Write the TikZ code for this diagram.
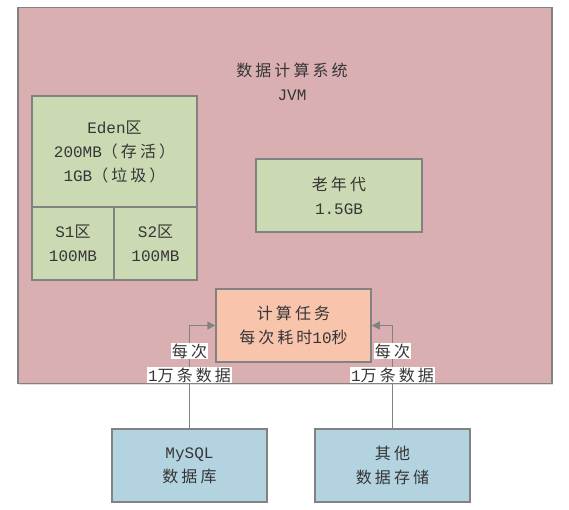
\documentclass[tikz,border=0pt]{standalone}
\usepackage{fontspec}
\setmainfont{Liberation Mono}
\newfontfamily\cjk{Noto Sans CJK SC}[LetterSpace=19]
\newcommand{\zh}[1]{{\cjk #1}}
\usetikzlibrary{arrows.meta,shadows}
\definecolor{jvmfill}{HTML}{DAAFB2}
\definecolor{genfill}{HTML}{CCDAB4}
\definecolor{taskfill}{HTML}{F8C4AC}
\definecolor{dbfill}{HTML}{B2D3DF}
\definecolor{edge}{HTML}{828282}
\definecolor{txt}{HTML}{363636}
\setlength{\fboxsep}{1pt}
\tikzset{
  box/.style={draw=edge, line width=1.5pt, rectangle, inner sep=0pt, align=center,
    drop shadow={opacity=0.25, shadow xshift=1.2pt, shadow yshift=-1.2pt}},
  jvmbox/.style={box, fill=jvmfill},
  genbox/.style={box, fill=genfill},
  taskbox/.style={box, fill=taskfill},
  dbbox/.style={box, fill=dbfill},
  lbl/.style={inner sep=0pt, align=center},
  conn/.style={draw=edge, line width=1.5pt, -{Triangle[length=8pt,width=8pt]}},
}
\begin{document}
\begin{tikzpicture}[x=1pt,y=-1pt,font=\fontsize{16}{24}\selectfont,text=txt]
\useasboundingbox (0,0) rectangle (569,510);
\node[jvmbox, minimum width=534pt, minimum height=376pt] (jvm) at (285,195.5) {};
\node[lbl] (title) at (292,82) {\zh{数据计算系统}\\JVM};
\node[genbox, minimum width=165pt, minimum height=111pt] (eden) at (114.5,151.5)
  {Eden\zh{区}\\200MB\zh{（存活）}\\1GB\zh{（垃圾）}};
\node[genbox, minimum width=82pt, minimum height=73pt] (s1) at (73,243.5) {S1\zh{区}\\100MB};
\node[genbox, minimum width=83pt, minimum height=73pt] (s2) at (155.5,243.5) {S2\zh{区}\\100MB};
\node[genbox, minimum width=166pt, minimum height=73pt] (old) at (339,195.5) {\zh{老年代}\\1.5GB};
\node[taskbox, minimum width=155pt, minimum height=73pt] (task) at (293.5,325.5)
  {\zh{计算任务}\\\zh{每次耗时}10\zh{秒}};
\node[dbbox, minimum width=155pt, minimum height=73pt] (mysql) at (189.5,465.5) {MySQL\\\zh{数据库}};
\node[dbbox, minimum width=155pt, minimum height=73pt] (other) at (392.5,465.5) {\zh{其他}\\\zh{数据存储}};
\draw[conn] (mysql.north) |- (task.west);
\draw[conn] (other.north) |- (task.east);
\node[lbl] (l1) at (189.5,363) {\colorbox{white}{\zh{每次}}\\\colorbox{white}{1\zh{万条数据}}};
\node[lbl] (l2) at (392.5,363) {\colorbox{white}{\zh{每次}}\\\colorbox{white}{1\zh{万条数据}}};
\end{tikzpicture}
\end{document}
